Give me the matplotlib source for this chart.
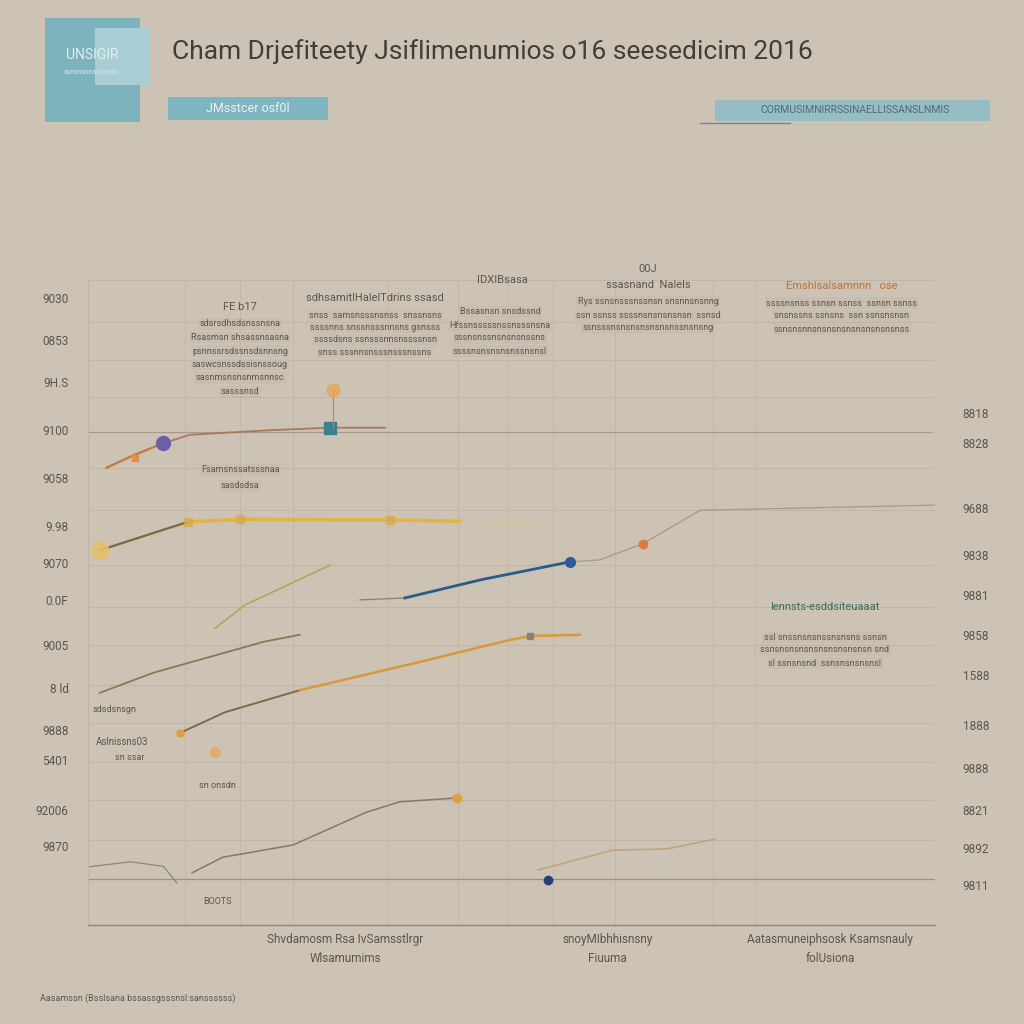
import numpy as np
import matplotlib.pyplot as plt
from matplotlib.patches import Rectangle

#
# Data (x: 0-100 across the plot, y: 0-100 up the plot)
#

title = "Cham Drjefiteety Jsiflimenumios o16 seesedicim 2016"

top_x = [2.2, 5.5, 8.9, 12.0, 21.3, 28.6, 35.1]
top_y = [70.9, 72.9, 74.7, 76.0, 76.7, 77.1, 77.1]

gold_x = [1.4, 11.8, 17.9, 30.9, 35.7, 43.9, 53.4]
gold_y = [58.1, 62.5, 62.9, 62.8, 62.8, 62.6, 62.3]

olive_x = [15.0, 18.5, 28.6]
olive_y = [46.0, 49.6, 55.8]

blue_x = [32.1, 37.4, 46.3, 56.9]
blue_y = [50.4, 50.7, 53.5, 56.3]
blue_tail_x = [56.9, 60.4, 65.5, 72.3, 100.0]
blue_tail_y = [56.3, 56.6, 59.1, 64.3, 65.1]

brown_x = [1.4, 7.7, 20.7, 25.0]
brown_y = [36.0, 39.1, 43.9, 45.0]

orange_x = [10.9, 16.2, 25.0, 39.2, 49.8, 52.2, 58.1]
orange_y = [29.8, 33.0, 36.4, 40.8, 44.2, 44.8, 45.0]

low_x = [12.3, 15.9, 24.2, 32.9, 36.8, 43.6]
low_y = [8.1, 10.5, 12.4, 17.5, 19.1, 19.7]

tan_x = [53.1, 61.9, 68.4, 74.0]
tan_y = [8.5, 11.6, 11.8, 13.3]

grey_x = [0.0, 5.0, 8.9, 10.5]
grey_y = [9.0, 9.8, 9.1, 6.5]

hgrid = [100.0, 93.5, 87.6, 81.9, 76.4, 70.9, 64.3, 55.8, 49.3, 43.4, 37.2, 31.3, 25.3, 19.4,
         13.2, 7.1]
vgrid = [11.5, 17.9, 24.2, 35.4, 43.7, 49.6, 54.9, 62.2, 73.8, 78.7, 100.0]

left_ticks = [97.2, 90.7, 84.2, 76.7, 69.3, 61.9, 56.1, 50.4, 43.4, 36.7, 30.2, 25.6, 17.8, 12.2]
left_labels = ["9030", "0853", "9H.S", "9100", "9058", "9.98", "9070", "0.0F", "9005", "8 ld",
               "9888", "5401", "92006", "9870"]
right_ticks = [79.4, 74.7, 64.7, 57.4, 51.2, 45.0, 38.8, 31.0, 24.3, 17.8, 11.9, 6.2]
right_labels = ["8818", "8828", "9688", "9838", "9881", "9858", "1588", "1888", "9888", "8821",
                "9892", "9811"]

cat_pos = [30.4, 61.3, 87.6]
cat_labels = ["Shvdamosm Rsa IvSamsstlrgr\nWlsamumims", "snoyMIbhhisnsny\nFiuuma",
              "Aatasmuneiphsosk Ksamsnauly\nfolUsiona"]

BG = "#cdc3b5"
NARROW = ["Roboto", "DejaVu Sans"]
TXT = "#5a554f"

fig = plt.figure(figsize=(10.24, 10.24), dpi=100, facecolor=BG)
ax = fig.add_axes([88 / 1024, 1 - 925 / 1024, 847 / 1024, 645 / 1024])
ax.set_facecolor(BG)
ax.set_xlim(0, 100)
ax.set_ylim(0, 100)

for s in ["top", "right"]:
    ax.spines[s].set_visible(False)
ax.spines["left"].set_color("#c0b4a3")
ax.spines["bottom"].set_color("#8f877c")
ax.spines["bottom"].set_linewidth(1.0)

# grid
for g in hgrid:
    ax.axhline(g, color="#c1b5a5", lw=0.7, zorder=0)
for g in vgrid:
    ax.axvline(g, color="#c3b7a7", lw=0.7, zorder=0)
ax.axhline(76.4, color="#a89a88", lw=0.9, zorder=0, xmax=0.995)
ax.axhline(7.1, color="#9c9284", lw=0.9, zorder=0)

# series
ax.plot(top_x[:3], top_y[:3], color="#c07a40", lw=1.6)
ax.plot(top_x[2:], top_y[2:], color="#a87a5c", lw=1.3)
ax.plot(gold_x[:2], gold_y[:2], color="#7a6840", lw=1.6)
ax.plot(gold_x[1:6], gold_y[1:6], color="#e2b444", lw=2.6)
ax.plot(gold_x[5:], gold_y[5:], color="#e2c070", lw=1.0, alpha=0.6)
ax.plot(olive_x, olive_y, color="#b8a050", lw=1.1)
ax.plot(blue_x[:2], blue_y[:2], color="#8a8070", lw=0.9)
ax.plot(blue_x[1:], blue_y[1:], color="#2c5a8c", lw=2.0)
ax.plot(blue_tail_x, blue_tail_y, color="#a89886", lw=0.9)
ax.plot(brown_x, brown_y, color="#8e7650", lw=1.3)
ax.plot(orange_x[:3], orange_y[:3], color="#7e6a48", lw=1.4)
ax.plot(orange_x[2:], orange_y[2:], color="#d8983c", lw=1.8)
ax.plot(low_x, low_y, color="#8c7660", lw=1.1)
ax.plot(tan_x, tan_y, color="#c0a276", lw=1.1)
ax.plot(grey_x, grey_y, color="#8a8680", lw=0.9)

# markers
ax.plot(top_x[1], top_y[1] - 0.5, "s", color="#e0904a", ms=5)
ax.plot(top_x[2], top_y[2], "o", color="#6c5fa6", ms=10)
ax.plot(top_x[5], top_y[5], "s", color="#3e7f8c", ms=8)
ax.plot([28.9, 28.9], [77.1, 82.9], color="#9a8c78", lw=0.8)
ax.plot(28.9, 82.9, "o", color="#eba452", ms=9, alpha=0.8)
ax.plot(gold_x[0], gold_y[0], "o", color="#e6c06a", ms=12, alpha=0.9)
for i in [1, 2, 4]:
    ax.plot(gold_x[i], gold_y[i], "s", color="#d8a850", ms=6, alpha=0.7)
ax.plot(blue_x[-1], blue_y[-1], "o", color="#2c5a9c", ms=7)
ax.plot(blue_tail_x[2], blue_tail_y[2], "o", color="#e07a3a", ms=6)
ax.plot(orange_x[5], orange_y[5], "s", color="#8a8070", ms=5)
ax.plot(low_x[-1], low_y[-1], "o", color="#e0a040", ms=6)
ax.plot(54.3, 7.0, "o", color="#2a3f70", ms=6)
ax.plot(15.0, 26.8, "o", color="#eba452", ms=7, alpha=0.7)
ax.plot(orange_x[0], orange_y[0], "o", color="#e0a040", ms=5)

# ticks
ax.set_yticks(left_ticks)
ax.set_yticklabels(left_labels, family=NARROW, fontsize=8.5, color=TXT)
ax.tick_params(axis="y", length=0, pad=14)
ax.set_xticks(cat_pos)
ax.set_xticklabels(cat_labels, family=NARROW, fontsize=8.5, color=TXT, linespacing=1.6)
ax.tick_params(axis="x", length=0, pad=6)

ax2 = ax.twinx()
ax2.set_ylim(0, 100)
for s in ax2.spines.values():
    s.set_visible(False)
ax2.set_yticks(right_ticks)
ax2.set_yticklabels(right_labels, family=NARROW, fontsize=8.5, color=TXT)
ax2.tick_params(axis="y", length=0, pad=20)


# annotation blocks (figure pixel coords)
def ftext(px, py, s, **kw):
    kw.setdefault("family", NARROW)
    kw.setdefault("fontsize", 6.5)
    kw.setdefault("color", TXT)
    kw.setdefault("ha", "center")
    kw.setdefault("va", "center")
    fig.text(px / 1024, 1 - py / 1024, s, **kw)


def block(px, top, lines, head=None, head_color=TXT, step=13.5, fs=6.5):
    y = top
    if head:
        ftext(px, y, head, fontsize=8, color=head_color)
        y += 17
    for ln in lines:
        ftext(px, y, ln, fontsize=fs,
              bbox=dict(facecolor="#c6bcae", edgecolor="none", pad=1.0, alpha=0.6))
        y += step


block(240, 307, ["sdsrsdhsdsnssnsna", "Rsasmsn shsassnsasna", "psnnssrsdssnsdsnnsng",
                 "saswcsnssdssisnssoug", "sasnmsnsnsnmsnnsc", "sasssnsd"], head="FE b17")
block(375, 298, ["snss  samsnsssnsnss  snssnsns", "ssssnns snssnsssnnsns gsnsss",
                 "ssssdsns ssnsssnnsnssssnsn", "snss sssnnsnsssnsssnssns"],
      head="sdhsamitlHalelTdrins ssasd", step=12.5)
block(502, 280, [], head="IDXIBsasa")
block(500, 312, ["Bssasnsn snsdssnd", "Hfssnsssssnssnsssnsna", "sssnsnssnsnsnsnssns",
                 "ssssnsnsnsnsnssnsnsl"], step=13)
block(648, 269, [], head="00J")
block(648, 285, ["Rys ssnsnsssnssnsn snsnnsnsnng", "ssn ssnss ssssnsnsnsnsnsn  ssnsd",
                 "ssnsssnsnsnsnsnsnsnssnsnsng"], head="ssasnand  Nalels", step=13)
block(842, 286, ["ssssnsnss ssnsn ssnss  ssnsn ssnss", "snsnssns ssnsns  ssn ssnsnsnsn",
                 "ssnsnsnnsnsnsnsnsnsnsnsnsnss"], head="Emshlsalsamnnn   ose",
      head_color="#c0703a", step=13)
block(825, 607, ["", "ssl snssnsnsnssnsnsns ssnsn", "ssnsnsnsnsnsnsnsnsnsnsn snd",
                 "sl ssnsnsnd  ssnsnsnsnsnsl"], head="lennsts-esddsiteuaaat",
      head_color="#3a6a5a", step=13)
block(240, 470, ["Fsamsnssatsssnaa", "sasdsdsa"], step=16)
ftext(115, 710, "sdsdsnsgn")
ftext(122, 742, "Aslnissns03", fontsize=7)
ftext(130, 757, "sn ssar")
ftext(217, 786, "sn onsdn")
ftext(218, 902, "BOOTS")
ftext(40, 998, "Aasamssn (Bsslsana bssassgsssnsl:sanssssss)", ha="left", fontsize=6.5)

# header decorations
fig.patches.append(Rectangle((45 / 1024, 1 - 122 / 1024), 95 / 1024, 104 / 1024,
                             transform=fig.transFigure, facecolor="#7db3bd", edgecolor="none"))
fig.patches.append(Rectangle((95 / 1024, 1 - 85 / 1024), 55 / 1024, 57 / 1024,
                             transform=fig.transFigure, facecolor="#a8cdd4", edgecolor="none"))
ftext(92, 55, "UNSIGIR", fontsize=10, color="#e4eef0")
ftext(92, 72, "ssnsnssnssnsnsn", fontsize=5, color="#dce8ea")
fig.patches.append(Rectangle((168 / 1024, 1 - 120 / 1024), 160 / 1024, 23 / 1024,
                             transform=fig.transFigure, facecolor="#7db5c0", edgecolor="none"))
ftext(248, 108, "JMsstcer osf0l", fontsize=9, color="#eef4f4")
fig.patches.append(Rectangle((715 / 1024, 1 - 121 / 1024), 275 / 1024, 21 / 1024,
                             transform=fig.transFigure, facecolor="#8cbcc6", edgecolor="none",
                             alpha=0.85))
fig.lines.append(plt.Line2D([700 / 1024, 790 / 1024], [1 - 123 / 1024, 1 - 123 / 1024],
                            transform=fig.transFigure, color="#6a8a90", lw=1))
ftext(855, 110, "CORMUSIMNIRRSSINAELLISSANSLNMIS", fontsize=7.5, color="#4e6c74")

fig.text(172 / 1024, 1 - 52 / 1024, title, family=NARROW, fontsize=19, color="#403e3c",
         ha="left", va="center")

plt.savefig("out.png", dpi=100, facecolor=BG)
